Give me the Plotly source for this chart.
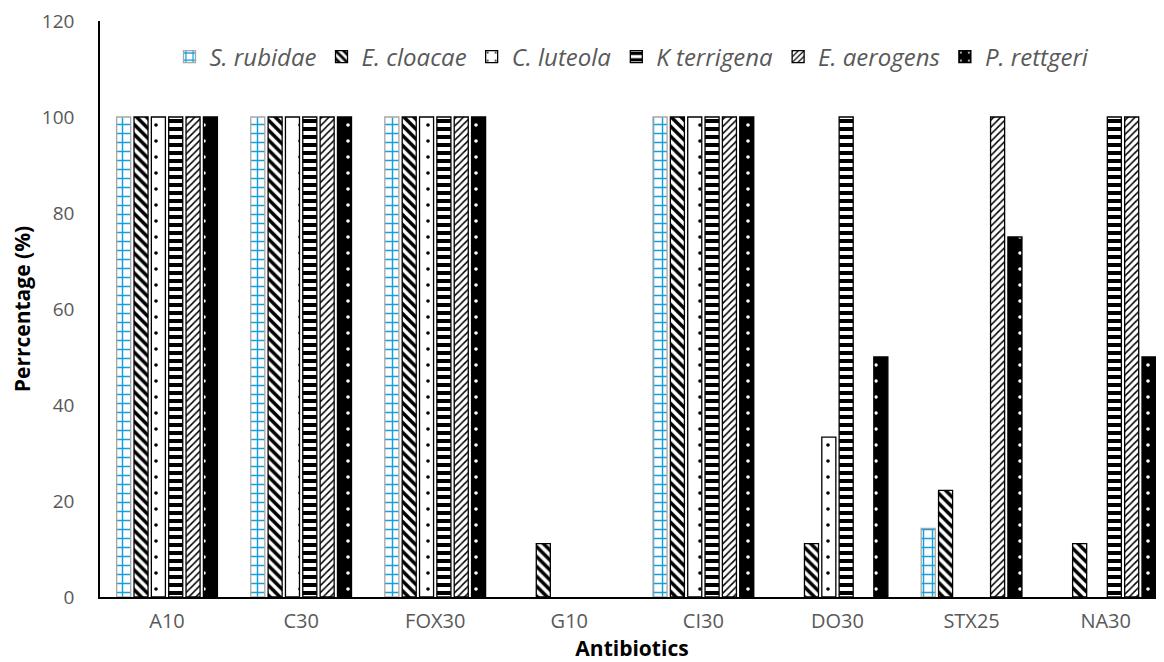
import plotly.graph_objects as go

categories = ["A10", "C30", "FOX30", "G10", "CI30", "DO30", "STX25", "NA30"]
series_names = ["S. rubidae", "E. cloacae", "C. luteola", "K terrigena", "E. aerogens", "P. rettgeri"]
s_rubidae = [100, 100, 100, 0, 100, 0, 14.3, 0]
e_cloacae = [100, 100, 100, 11.1, 100, 11.1, 22.2, 11.1]
c_luteola = [100, 100, 100, 0, 100, 33.3, 0, 0]
k_terrigena = [100, 100, 100, 0, 100, 100, 0, 100]
e_aerogens = [100, 100, 100, 0, 100, 0, 100, 100]
p_rettgeri = [100, 100, 100, 0, 100, 50, 75, 50]
values = [s_rubidae, e_cloacae, c_luteola, k_terrigena, e_aerogens, p_rettgeri]
y_ticks = [0, 20, 40, 60, 80, 100, 120]

styles = [
    dict(bg="white", fg="#14A0DC", shape="+", size=9, sol=0.3, line="#a6a6a6"),
    dict(bg="white", fg="black", shape="\\", size=7, sol=0.5, line="black"),
    dict(bg="white", fg="black", shape=".", size=16, sol=0.04, line="black"),
    dict(bg="white", fg="black", shape="-", size=8, sol=0.5, line="black"),
    dict(bg="white", fg="black", shape="/", size=5, sol=0.3, line="black"),
    dict(bg="black", fg="white", shape=".", size=16, sol=0.04, line="black"),
]

fig = go.Figure()
for name, vals, st in zip(series_names, values, styles):
    fig.add_trace(go.Bar(
        x=categories, y=vals, name=name,
        marker=dict(
            color=st["bg"],
            line=dict(color=st["line"], width=[1.3 if v > 0 else 0 for v in vals]),
            pattern=dict(shape=st["shape"], fgcolor=st["fg"], bgcolor=st["bg"],
                         size=st["size"], solidity=st["sol"], fillmode="replace"),
        ),
    ))

fig.update_layout(
    width=1156, height=654,
    margin=dict(l=92, r=0, t=13, b=65),
    paper_bgcolor="white", plot_bgcolor="white",
    barmode="group", bargap=0.224, bargroupgap=0.19,
    font=dict(family="Open Sans, Liberation Sans, sans-serif", color="#595959", size=19),
    legend=dict(orientation="h", x=0.5, xanchor="center", y=0.9375, yanchor="middle",
                font=dict(size=24, style="italic", color="#595959"),
                bgcolor="rgba(0,0,0,0)", traceorder="normal"),
    showlegend=True,
)
fig.update_xaxes(
    range=[-0.5, 7.435], automargin=False,
    showline=True, linecolor="black", linewidth=1.5, showgrid=False, ticks="",
    tickfont=dict(size=20, color="#595959"), ticklabelstandoff=5,
    title=dict(text="<b>Antibiotics</b>", font=dict(size=21, color="black"), standoff=2),
)
fig.update_yaxes(
    range=[0, 120], tickmode="array", tickvals=y_ticks, automargin=False,
    ticklabeloverflow="allow",
    showline=True, linecolor="black", linewidth=1.5,
    showgrid=False, ticks="", zeroline=False,
    tickfont=dict(size=19, color="#595959"), ticklabelstandoff=20,
    title=dict(text="<b>Perrcentage (%)</b>", font=dict(size=21, color="black"), standoff=8),
)

fig.write_html("out.html")
